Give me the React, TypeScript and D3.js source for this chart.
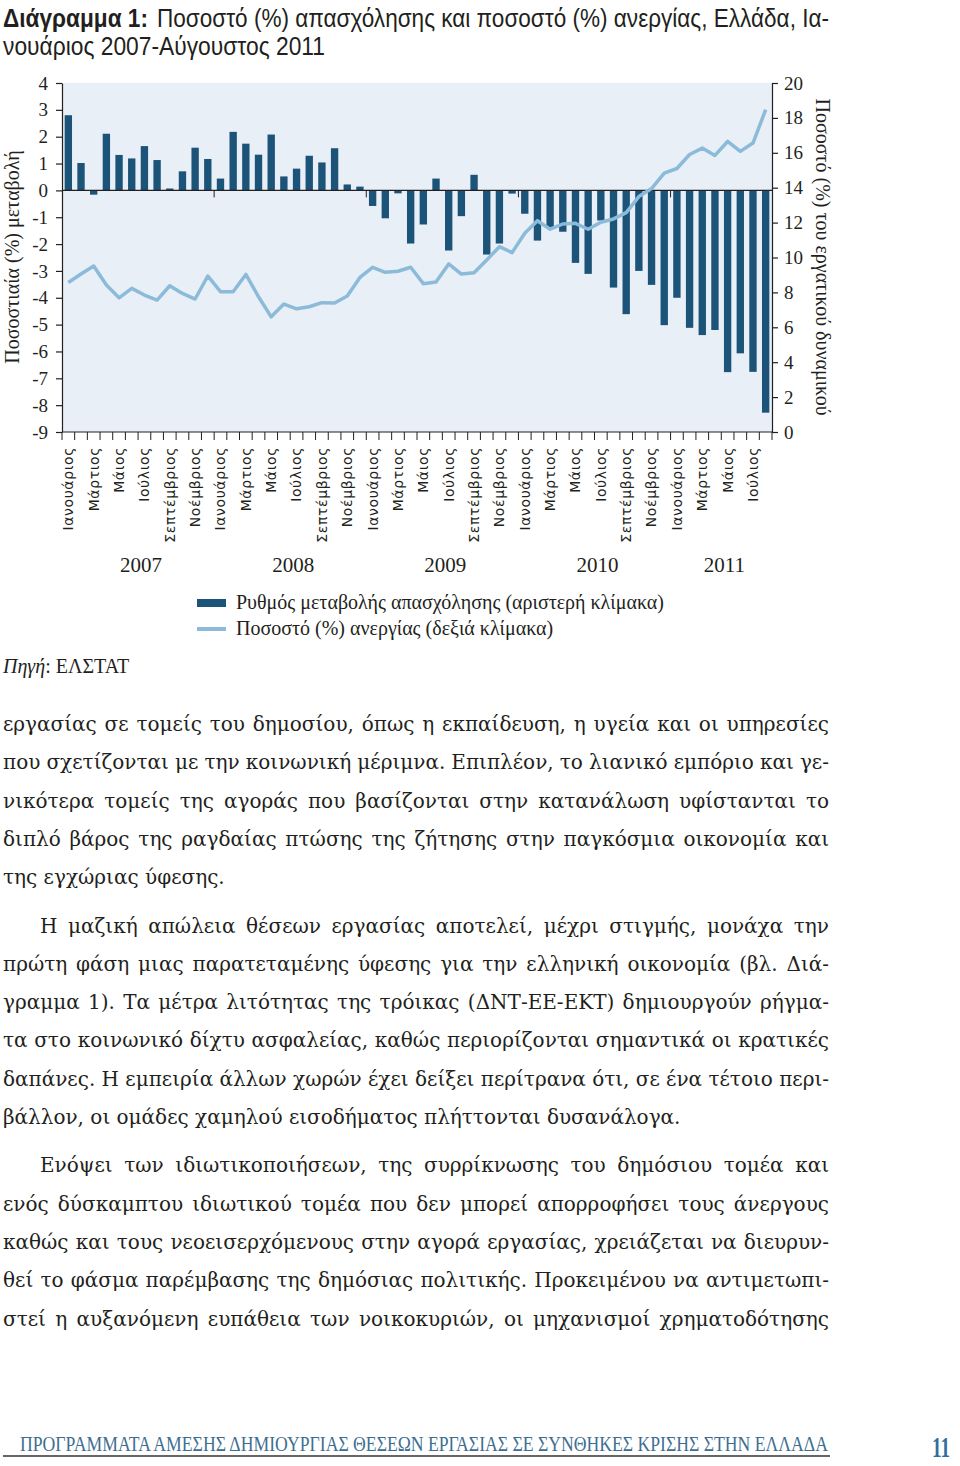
import React, { useEffect, useRef } from 'react';
import * as d3 from 'd3';

// months / years of the period Jan 2007 - Aug 2011
const monthNames = ['Ιανουάριος', 'Φεβρουάριος', 'Μάρτιος', 'Απρίλιος', 'Μάιος', 'Ιούνιος', 'Ιούλιος', 'Αύγουστος', 'Σεπτέμβριος', 'Οκτώβριος', 'Νοέμβριος', 'Δεκέμβριος'];
const years = [2007, 2008, 2009, 2010, 2011];
const monthsInLastYear = 8;

// Ρυθμός μεταβολής απασχόλησης (left scale)
const employmentChange = [
  2.8, 1.02, -0.16, 2.11, 1.32, 1.19, 1.65, 1.13, 0.07, 0.71, 1.59, 1.17,
  0.44, 2.18, 1.74, 1.33, 2.08, 0.52, 0.81, 1.29, 1.04, 1.57, 0.22, 0.14,
  -0.58, -1.04, -0.11, -1.98, -1.27, 0.44, -2.24, -0.96, 0.58, -2.39, -1.98, -0.12,
  -0.87, -1.87, -1.37, -1.54, -2.7, -3.11, -1.12, -3.62, -4.61, -3.0, -3.52, -5.02,
  -4.0, -5.12, -5.39, -5.2, -6.77, -6.07, -6.76, -8.28,
];

// Ποσοστό ανεργίας (right scale)
const unemploymentRate = [
  8.57, 9.05, 9.51, 8.42, 7.69, 8.23, 7.85, 7.56, 8.38, 7.94, 7.62, 8.94,
  8.04, 8.04, 9.03, 7.75, 6.6, 7.33, 7.06, 7.18, 7.41, 7.39, 7.79, 8.86,
  9.44, 9.15, 9.21, 9.44, 8.5, 8.59, 9.63, 9.05, 9.13, 9.86, 10.62, 10.28,
  11.39, 12.11, 11.62, 11.92, 11.96, 11.62, 12.02, 12.21, 12.57, 13.49, 13.95, 14.83,
  15.1, 15.9, 16.27, 15.85, 16.65, 16.08, 16.56, 18.47,
];

const leftTicks = d3.range(-9, 5);
const rightTicks = d3.range(0, 21, 2);

const titleBold = 'Διάγραμμα 1:';
const titleRest = 'Ποσοστό (%) απασχόλησης και ποσοστό (%) ανεργίας, Ελλάδα, Ια-';
const titleLine2 = 'νουάριος 2007-Αύγουστος 2011';
const leftAxisTitle = 'Ποσοστιαία (%) μεταβολή';
const rightAxisTitle = 'Ποσοστό (%) του εργατικού δυναμικού';
const legendLabels = ['Ρυθμός μεταβολής απασχόλησης (αριστερή κλίμακα)', 'Ποσοστό (%) ανεργίας (δεξιά κλίμακα)'];
const footerText = 'ΠΡΟΓΡΑΜΜΑΤΑ ΑΜΕΣΗΣ ΔΗΜΙΟΥΡΓΙΑΣ ΘΕΣΕΩΝ ΕΡΓΑΣΙΑΣ ΣΕ ΣΥΝΘΗΚΕΣ ΚΡΙΣΗΣ ΣΤΗΝ ΕΛΛΑΔΑ';
const pageNumber = '11';

// body paragraphs, one entry per printed line
const paragraphs = [
  [
    'εργασίας σε τομείς του δημοσίου, όπως η εκπαίδευση, η υγεία και οι υπηρεσίες',
    'που σχετίζονται με την κοινωνική μέριμνα. Επιπλέον, το λιανικό εμπόριο και γε-',
    'νικότερα τομείς της αγοράς που βασίζονται στην κατανάλωση υφίστανται το',
    'διπλό βάρος της ραγδαίας πτώσης της ζήτησης στην παγκόσμια οικονομία και',
    'της εγχώριας ύφεσης.',
  ],
  [
    'Η μαζική απώλεια θέσεων εργασίας αποτελεί, μέχρι στιγμής, μονάχα την',
    'πρώτη φάση μιας παρατεταμένης ύφεσης για την ελληνική οικονομία (βλ. Διά-',
    'γραμμα 1). Τα μέτρα λιτότητας της τρόικας (ΔΝΤ-ΕΕ-ΕΚΤ) δημιουργούν ρήγμα-',
    'τα στο κοινωνικό δίχτυ ασφαλείας, καθώς περιορίζονται σημαντικά οι κρατικές',
    'δαπάνες. Η εμπειρία άλλων χωρών έχει δείξει περίτρανα ότι, σε ένα τέτοιο περι-',
    'βάλλον, οι ομάδες χαμηλού εισοδήματος πλήττονται δυσανάλογα.',
  ],
  [
    'Ενόψει των ιδιωτικοποιήσεων, της συρρίκνωσης του δημόσιου τομέα και',
    'ενός δύσκαμπτου ιδιωτικού τομέα που δεν μπορεί απορροφήσει τους άνεργους',
    'καθώς και τους νεοεισερχόμενους στην αγορά εργασίας, χρειάζεται να διευρυν-',
    'θεί το φάσμα παρέμβασης της δημόσιας πολιτικής. Προκειμένου να αντιμετωπι-',
    'στεί η αυξανόμενη ευπάθεια των νοικοκυριών, οι μηχανισμοί χρηματοδότησης',
  ],
];
const lastLineOpen = [true, true, false];

const periods = years.flatMap((yr, yi) =>
  monthNames.slice(0, yi === years.length - 1 ? monthsInLastYear : 12).map((m) => ({ year: yr, month: m }))
);

const SERIF = "'Liberation Serif', 'DejaVu Serif', serif";
const BODY = "'DejaVu Serif', 'Liberation Serif', serif";
const SANS = "'DejaVu Sans', 'Noto Sans', sans-serif";
const NARROW = "'Liberation Sans Narrow', 'Liberation Sans', Roboto, sans-serif";
const INK = '#231f20';
const BAR = '#1c5379';
const LINE = '#8bbbd8';
const PANEL = '#e8eff7';

const App = () => {
  const leftAxisRef = useRef<SVGGElement>(null);
  const rightAxisRef = useRef<SVGGElement>(null);
  const bodyRef = useRef<SVGGElement>(null);

  const x = d3.scaleBand<number>()
    .domain(d3.range(periods.length))
    .range([62, 772])
    .paddingInner(0.42)
    .paddingOuter(0.21);
  const yL = d3.scaleLinear().domain([-9, 4]).range([432, 83]);
  const yR = d3.scaleLinear().domain([0, 20]).range([432, 83]);
  const bw = x.bandwidth();
  const gap = (x.step() - bw) / 2;
  const cx = (i: number) => (x(i) as number) + bw / 2;

  const line = d3.line<number>()
    .x((_, i) => cx(i))
    .y((d) => yR(d));

  useEffect(() => {
    const gl = d3.select(leftAxisRef.current);
    gl.call(d3.axisLeft(yL).tickValues(leftTicks).tickFormat((d) => String(d)).tickSize(6).tickSizeOuter(0).tickPadding(8) as any);
    const gr = d3.select(rightAxisRef.current);
    gr.call(d3.axisRight(yR).tickValues(rightTicks).tickFormat((d) => String(d)).tickSize(6).tickSizeOuter(0).tickPadding(6) as any);
    [gl, gr].forEach((g) => {
      g.attr('font-family', SERIF).attr('font-size', 19);
      g.selectAll('text').attr('fill', INK);
      g.selectAll('line, path').attr('stroke', INK).attr('stroke-width', 1.2);
    });

    // justify the body lines by widening word spacing
    d3.select(bodyRef.current).selectAll<SVGTextElement, unknown>('text.justify').each(function () {
      const el = this;
      el.style.wordSpacing = '0px';
      const target = +(el.getAttribute('data-width') || 0);
      const len = el.getComputedTextLength();
      const spaces = ((el.textContent || '').match(/ /g) || []).length;
      if (spaces) el.style.wordSpacing = `${(target - len) / spaces}px`;
    });
  }, []);

  const bodyTop = 731;
  const lineGap = 38.3;
  const paraGap = 10;
  let lineIndex = 0;

  return (
    <svg width={960} height={1466} style={{ position: 'absolute', left: 0, top: 0, background: '#fff' }}>
      {/* title */}
      <text x={3} y={27} font-family={NARROW} font-size={25} font-weight="bold" fill={INK} textLength={145} lengthAdjust="spacingAndGlyphs">{titleBold}</text>
      <text x={157} y={27} font-family={NARROW} font-size={25} fill={INK} textLength={672} lengthAdjust="spacingAndGlyphs">{titleRest}</text>
      <text x={3} y={55} font-family={NARROW} font-size={25} fill={INK} textLength={322} lengthAdjust="spacingAndGlyphs">{titleLine2}</text>

      {/* plot panel */}
      <rect x={62} y={83} width={710} height={349} fill={PANEL} />

      {employmentChange.map((v, i) => (
        <rect key={i} x={x(i)} y={yL(Math.max(0, v))} width={bw} height={Math.abs(yL(v) - yL(0))} fill={BAR} />
      ))}

      <line x1={62} x2={772} y1={yL(0)} y2={yL(0)} stroke={INK} strokeWidth={1.3} />
      {years.slice(1).map((yr) => {
        const i = periods.findIndex((p) => p.year === yr);
        const bx = (x(i) as number) - gap;
        return <line key={yr} x1={bx} x2={bx} y1={yL(0)} y2={yL(0) + 7} stroke={INK} strokeWidth={1} />;
      })}

      <path d={line(unemploymentRate) || ''} fill="none" stroke={LINE} strokeWidth={3.5} strokeLinejoin="round" />

      {/* axes */}
      <g ref={leftAxisRef} transform="translate(62,0)" />
      <g ref={rightAxisRef} transform="translate(772,0)" />
      <line x1={62} x2={772} y1={432} y2={432} stroke={INK} strokeWidth={1.2} />
      {d3.range(periods.length + 1).map((k) => {
        const bx = k < periods.length ? (x(k) as number) - gap : (x(k - 1) as number) + bw + gap;
        return <line key={k} x1={bx} x2={bx} y1={432} y2={440} stroke={INK} strokeWidth={1} />;
      })}

      {periods.map((p, i) => (i % 2 === 0 ? (
        <text key={i} transform={`translate(${cx(i)},447) rotate(-90)`} text-anchor="end" dy="0.35em"
          font-family={SANS} font-size={14} letter-spacing={0.6} fill={INK}>{p.month}</text>
      ) : null))}

      {years.map((yr) => {
        const idx = periods.map((p, i) => (p.year === yr ? i : -1)).filter((i) => i >= 0);
        const mid = ((x(idx[0]) as number) + (x(idx[idx.length - 1]) as number) + bw) / 2 + 3;
        return <text key={yr} x={mid} y={572} text-anchor="middle" font-family={SERIF} font-size={21} fill={INK}>{yr}</text>;
      })}

      <text transform="translate(19,257) rotate(-90)" text-anchor="middle" font-family={SERIF} font-size={20} fill={INK}>{leftAxisTitle}</text>
      <text transform="translate(816,257) rotate(90)" text-anchor="middle" font-family={SERIF} font-size={20} fill={INK}>{rightAxisTitle}</text>

      {/* legend */}
      <rect x={197} y={599} width={29} height={8} fill={BAR} />
      <text x={236} y={609} font-family={SERIF} font-size={20} fill={INK}>{legendLabels[0]}</text>
      <rect x={197} y={627} width={29} height={4} fill={LINE} />
      <text x={236} y={635} font-family={SERIF} font-size={20} fill={INK}>{legendLabels[1]}</text>

      <text x={3} y={673} font-family={SERIF} font-size={20} fill={INK}>
        <tspan font-style="italic">Πηγή</tspan>: ΕΛΣΤΑΤ
      </text>

      {/* body text */}
      <g ref={bodyRef} font-family={BODY} font-size={20} fill={INK}>
        {paragraphs.map((para, pi) => para.map((t, li) => {
          const y = bodyTop + lineIndex * lineGap + pi * paraGap;
          lineIndex += 1;
          const indent = li === 0 && pi > 0 ? 40 : 3;
          const justify = !(lastLineOpen[pi] && li === para.length - 1);
          return (
            <text key={`${pi}-${li}`} className={justify ? 'justify' : ''} data-width={829 - indent} x={indent} y={y}>{t}</text>
          );
        }))}
      </g>

      {/* footer */}
      <text transform="translate(20,1451) scale(1,1.35)" font-family={SERIF} font-size={15.5} fill="#3d6e91" textLength={808} lengthAdjust="spacingAndGlyphs">{footerText}</text>
      <line x1={3} x2={830} y1={1456} y2={1456} stroke="#333" strokeWidth={1.5} />
      <text transform="translate(941,1457) scale(1,1.5)" text-anchor="middle" font-family={SERIF} font-size={19} font-weight="bold" fill="#2f6e9e">{pageNumber}</text>
    </svg>
  );
};

export default App;
